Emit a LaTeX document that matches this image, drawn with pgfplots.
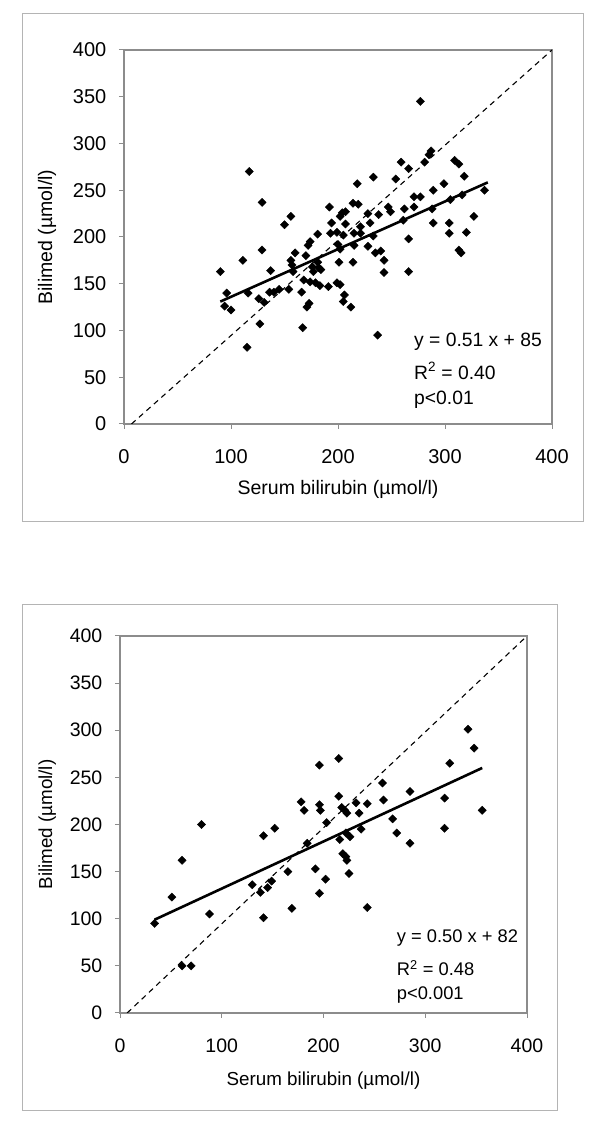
\documentclass[border=0pt]{standalone}
\usepackage{pgfplots}
\pgfplotsset{compat=1.18}
\usepackage{fontspec}
\setmainfont{Liberation Sans}
\definecolor{framegray}{HTML}{B4B4B4}
\definecolor{axgray}{HTML}{8C8C8C}
\pgfplotsset{myax/.style={
  scale only axis, xmin=0, xmax=400, ymin=0, ymax=400,
  xtick={0,100,...,400}, ytick={0,50,...,400},
  tick pos=left, tick align=outside, major tick length=5pt,
  axis line style={axgray, line width=1.1pt},
  tick style={axgray, line width=1pt},
  /pgf/number format/assume math mode=true,
  xticklabel style={yshift=-14pt},
  yticklabel style={xshift=-6pt},
  xlabel={Serum bilirubin (µmol/l)}, ylabel={Bilimed (µmol/l)},
  scatmark/.style={only marks, mark=square*, mark size=2.9pt, mark options={rotate=45, fill=black, draw=black}},
}}
\begin{document}
\fontsize{19.5}{23}\selectfont
\begin{tikzpicture}[x=1pt,y=1pt]
\path (0,0) rectangle (600,1134);
\draw[framegray, line width=1pt] (22,612) rectangle (583,1120);
\draw[framegray, line width=1pt] (22,23) rectangle (557,529);
% top panel
\begin{axis}[myax, at={(124pt,710pt)}, anchor=south west, width=428pt, height=374pt,
  ticklabel style={font=\fontsize{20}{24}\selectfont},
  label style={font=\fontsize{19.5}{23}\selectfont},
  xlabel style={at={(axis description cs:0.5,-0.176)}, anchor=center},
  ylabel style={at={(axis description cs:-0.18,0.5)}, anchor=center}]
\addplot[black, dashed, line width=1.1pt, dash pattern=on 5.5pt off 4.5pt] coordinates {(7,0) (400,400)};
\addplot[scatmark] coordinates {
(90,163) (94,126) (96,140) (100,122) (111,175) (116,140) (115,82) (117,270)
(127,107) (126,134) (131,130) (136,141) (137,164) (145,144) (129,237) (129,186)
(237,95) (167,103) (212,125) (205,131) (206,138) (173,129) (171,125) (166,141)
(154,144) (140,141) (168,154) (174,152) (179,151) (183,148) (191,147) (199,151)
(202,149) (176,168) (177,163) (184,165) (201,173) (214,173) (157,170) (158,163)
(266,163) (243,162) (277,345) (287,292) (285,288) (259,280) (266,273) (281,280)
(309,282) (233,264) (254,262) (218,257) (299,257) (289,250) (192,232) (214,236)
(219,235) (271,243) (277,243) (305,240) (247,232) (249,227) (262,230) (271,232)
(288,230) (204,226) (207,227) (202,222) (156,222) (150,213) (228,225) (238,224)
(261,218) (289,215) (304,215) (304,204) (194,215) (207,214) (221,211) (230,215)
(193,204) (199,205) (205,202) (215,204) (221,204) (233,201) (181,203) (266,198)
(174,195) (172,191) (200,192) (202,187) (215,191) (228,190) (235,183) (240,185)
(243,175) (160,183) (170,180) (156,175) (181,173) (182,167) (313,186)
(313,278) (318,265) (316,245) (315,183) (320,205) (327,222) (337,250)
};
\addplot[black, line width=2.6pt] coordinates {(90,130.9) (340,258.4)};
\node[anchor=west, inner sep=0pt, font=\fontsize{19.3}{23}\selectfont] at (axis cs:271,87.7) {y = 0.51 x + 85};
\node[anchor=west, inner sep=0pt, font=\fontsize{19.3}{23}\selectfont] at (axis cs:271,56.7) {R\textsuperscript{2} = 0.40};
\node[anchor=west, inner sep=0pt, font=\fontsize{19.3}{23}\selectfont] at (axis cs:271,25.7) {p<0.01};
\end{axis}
% bottom panel
\begin{axis}[myax, at={(120pt,121pt)}, anchor=south west, width=407pt, height=377pt,
  ticklabel style={font=\fontsize{19.5}{23}\selectfont},
  label style={font=\fontsize{18.8}{22}\selectfont},
  xlabel style={at={(axis description cs:0.5,-0.18)}, anchor=center},
  ylabel style={at={(axis description cs:-0.179,0.5)}, anchor=center}]
\addplot[black, dashed, line width=1.1pt, dash pattern=on 5.5pt off 4.5pt] coordinates {(7,0) (400,400)};
\addplot[scatmark] coordinates {
(34,95) (51,123) (61,162) (61,50) (70,50) (80,200) (88,105) (130,136)
(138,128) (141,101) (145,133) (149,140) (141,188) (152,196) (165,150) (169,111)
(178,224) (181,215) (184,180) (192,153) (196,127) (196,221) (197,215) (196,263)
(202,142) (203,202) (215,270) (215,230) (216,184) (219,169) (222,166) (223,162)
(225,148) (221,215) (223,212) (218,218) (222,191) (226,187) (232,223) (235,212)
(237,195) (243,222) (243,112) (258,244) (259,226) (268,206) (272,191) (285,235)
(285,180) (319,228) (319,196) (324,265) (342,301) (348,281) (356,215)
};
\addplot[black, line width=2.6pt] coordinates {(34,99) (356,260)};
\node[anchor=west, inner sep=0pt, font=\fontsize{18.3}{22}\selectfont] at (axis cs:272,79.6) {y = 0.50 x + 82};
\node[anchor=west, inner sep=0pt, font=\fontsize{18.3}{22}\selectfont] at (axis cs:272,47.7) {R\textsuperscript{2} = 0.48};
\node[anchor=west, inner sep=0pt, font=\fontsize{18.3}{22}\selectfont] at (axis cs:272,19.1) {p<0.001};
\end{axis}
\end{tikzpicture}
\end{document}
